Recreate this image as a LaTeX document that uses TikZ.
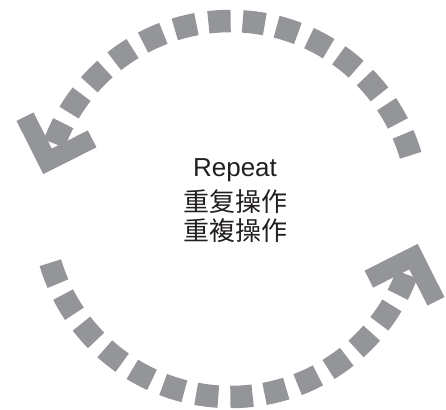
\documentclass[tikz,border=0pt]{standalone}
\usepackage{fontspec}
\setmainfont{Liberation Sans}
\newfontfamily\cjksc{Noto Sans CJK SC}
\newfontfamily\cjktc{Noto Sans CJK TC}
\usetikzlibrary{calc}
\definecolor{arcgray}{RGB}{147,149,152}
\definecolor{txtcol}{RGB}{35,31,32}
\begin{document}
\begin{tikzpicture}[x=1pt,y=1pt,
  dashseg/.style={draw=arcgray, line width=22.5pt, line cap=butt},
  chevron/.style={draw=arcgray, line width=19pt, line join=miter, line cap=butt, miter limit=4},
  lbl/.style={text=txtcol, inner sep=0pt, anchor=base, font=\fontsize{26}{30}\selectfont}]
\useasboundingbox (-230.5,-200) rectangle (215.5,209);
\coordinate (c) at (0,0);
\foreach \rot in {0,180}{
  \foreach \k in {0,...,13}{
    \pgfmathsetmacro\a{20+10.48*\k+\rot}
    \draw[dashseg] ({\a-3.4}:188) arc[start angle={\a-3.4}, end angle={\a+3.4}, radius=188];
  }
  \coordinate (tip\rot) at ({165.4+\rot}:189.1);
  \draw[chevron] ($(tip\rot)+({116.7+\rot}:50)$) -- (tip\rot) -- ($(tip\rot)+({26.7+\rot}:50)$);
}
\node[lbl] (repeat) at (4.5,32.4) {Repeat};
\node[lbl] (sc) at (4.5,-2.6) {\cjksc 重复操作};
\node[lbl] (tc) at (4.5,-31.6) {\cjktc 重複操作};
\end{tikzpicture}
\end{document}
